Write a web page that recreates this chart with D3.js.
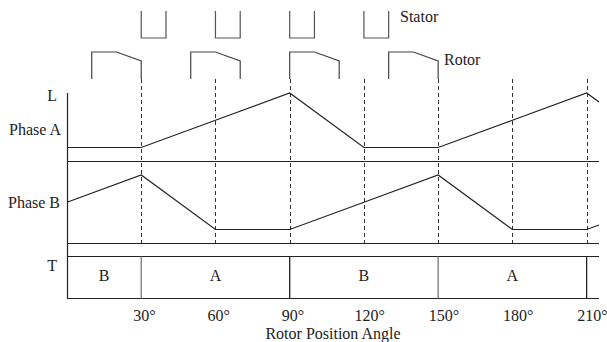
<!DOCTYPE html>
<html>
<head>
<meta charset="utf-8">
<script src="https://cdn.jsdelivr.net/npm/d3@7"></script>
<style>
  body { margin: 0; background: #fff; overflow: hidden; }
  text { font-family: "Liberation Serif", "Times New Roman", serif; fill: #222; }
</style>
</head>
<body>
<div id="chart"></div>
<script>
// inductance profile, normalised 0 (unaligned) .. 1 (aligned)
var angles = [0, 30, 60, 90, 120, 150, 180, 210, 215];
var phaseA = [0, 0, 0.5, 1, 0, 0, 0.5, 1, 0.833];
var phaseB = [0.5, 1, 0, 0, 0.5, 1, 0, 0, 0.083];

var tickAngles = [30, 60, 90, 120, 150, 180, 210];
var tickLabels = ["30°", "60°", "90°", "120°", "150°", "180°", "210°"];

// torque producing phase
var segStart = [0, 30, 90, 150];
var segEnd = [30, 90, 150, 210];
var segLabel = ["B", "A", "B", "A"];

// stator teeth and rotor poles (start angle)
var statorStart = [30, 60, 90, 120];
var rotorStart = [10, 50, 90, 130];

var width = 607, height = 342;

var svg = d3.select("#chart")
    .append("svg")
    .attr("width", width)
    .attr("height", height);

var x = d3.scaleLinear().domain([0, 215]).range([67, 599]);
var yA = d3.scaleLinear().domain([0, 1]).range([147.5, 93]);
var yB = d3.scaleLinear().domain([0, 1]).range([229.5, 175]);

var baseA = 161.5, baseB = 243.5, tTop = 256.5, tBot = 298.5;

// dashed guides
svg.selectAll(".guide").data(tickAngles).enter()
    .append("line")
    .attr("x1", function(d) { return Math.round(x(d)) + 0.5; })
    .attr("x2", function(d) { return Math.round(x(d)) + 0.5; })
    .attr("y1", 79)
    .attr("y2", baseB)
    .attr("stroke", "#333")
    .attr("stroke-width", 1)
    .attr("stroke-dasharray", "4,3");

// stator teeth
svg.selectAll(".stator").data(statorStart).enter()
    .append("path")
    .attr("fill", "none")
    .attr("stroke", "#555")
    .attr("stroke-width", 1.2)
    .attr("d", function(d) {
        var x0 = x(d), x1 = x(d + 10);
        return "M" + x0 + ",11V38H" + x1 + "V11";
    });

// rotor poles
svg.selectAll(".rotor").data(rotorStart).enter()
    .append("path")
    .attr("fill", "none")
    .attr("stroke", "#444")
    .attr("stroke-width", 1.2)
    .attr("d", function(d) {
        return "M" + x(d) + ",79V52H" + x(d + 10) + "L" + x(d + 20) + ",61V79";
    });

svg.append("text").attr("x", 400).attr("y", 22).style("font-size", "16px").text("Stator");
svg.append("text").attr("x", 444).attr("y", 65).style("font-size", "16px").text("Rotor");

// axes frame
svg.append("line")
    .attr("x1", 67.5).attr("x2", 67.5).attr("y1", 93).attr("y2", tBot)
    .attr("stroke", "#222").attr("stroke-width", 1.2);

[baseA, baseB, tTop, tBot].forEach(function(y) {
    svg.append("line")
        .attr("x1", 67).attr("x2", 599).attr("y1", y).attr("y2", y)
        .attr("stroke", "#222").attr("stroke-width", 1.2);
});

// inductance curves
var lineA = d3.line().x(function(d, i) { return x(angles[i]); }).y(function(d) { return yA(d); });
var lineB = d3.line().x(function(d, i) { return x(angles[i]); }).y(function(d) { return yB(d); });

svg.append("path").datum(phaseA).attr("d", lineA)
    .attr("fill", "none").attr("stroke", "#222").attr("stroke-width", 1.2);
svg.append("path").datum(phaseB).attr("d", lineB)
    .attr("fill", "none").attr("stroke", "#222").attr("stroke-width", 1.2);

// torque box dividers and labels
svg.selectAll(".div").data(segEnd).enter()
    .append("line")
    .attr("x1", function(d) { return x(d); })
    .attr("x2", function(d) { return x(d); })
    .attr("y1", tTop).attr("y2", tBot)
    .attr("stroke", function(d, i) { return i % 2 == 0 ? "#777" : "#222"; })
    .attr("stroke-width", 1.3);

svg.selectAll(".seg").data(segLabel).enter()
    .append("text")
    .attr("x", function(d, i) { return x((segStart[i] + segEnd[i]) / 2); })
    .attr("y", 281)
    .style("text-anchor", "middle")
    .style("font-size", "16px")
    .text(function(d) { return d; });

// left labels
svg.append("text").attr("x", 57).attr("y", 101).style("text-anchor", "end").style("font-size", "16px").text("L");
svg.append("text").attr("x", 61).attr("y", 135).style("text-anchor", "end").style("font-size", "16px").text("Phase A");
svg.append("text").attr("x", 60).attr("y", 208).style("text-anchor", "end").style("font-size", "16px").text("Phase B");
svg.append("text").attr("x", 57).attr("y", 271).style("text-anchor", "end").style("font-size", "16px").text("T");

// x tick labels (left edge a little before the guide, as in the source)
svg.selectAll(".tick").data(tickAngles).enter()
    .append("text")
    .attr("x", function(d) { return x(d) - (d >= 100 ? 9.5 : 8); })
    .attr("y", 321)
    .style("text-anchor", "start")
    .style("font-size", "16px")
    .text(function(d, i) { return tickLabels[i]; });

svg.append("text")
    .attr("x", (x(0) + x(215)) / 2)
    .attr("y", 339)
    .style("text-anchor", "middle")
    .style("font-size", "16px")
    .text("Rotor Position Angle");
</script>
</body>
</html>
